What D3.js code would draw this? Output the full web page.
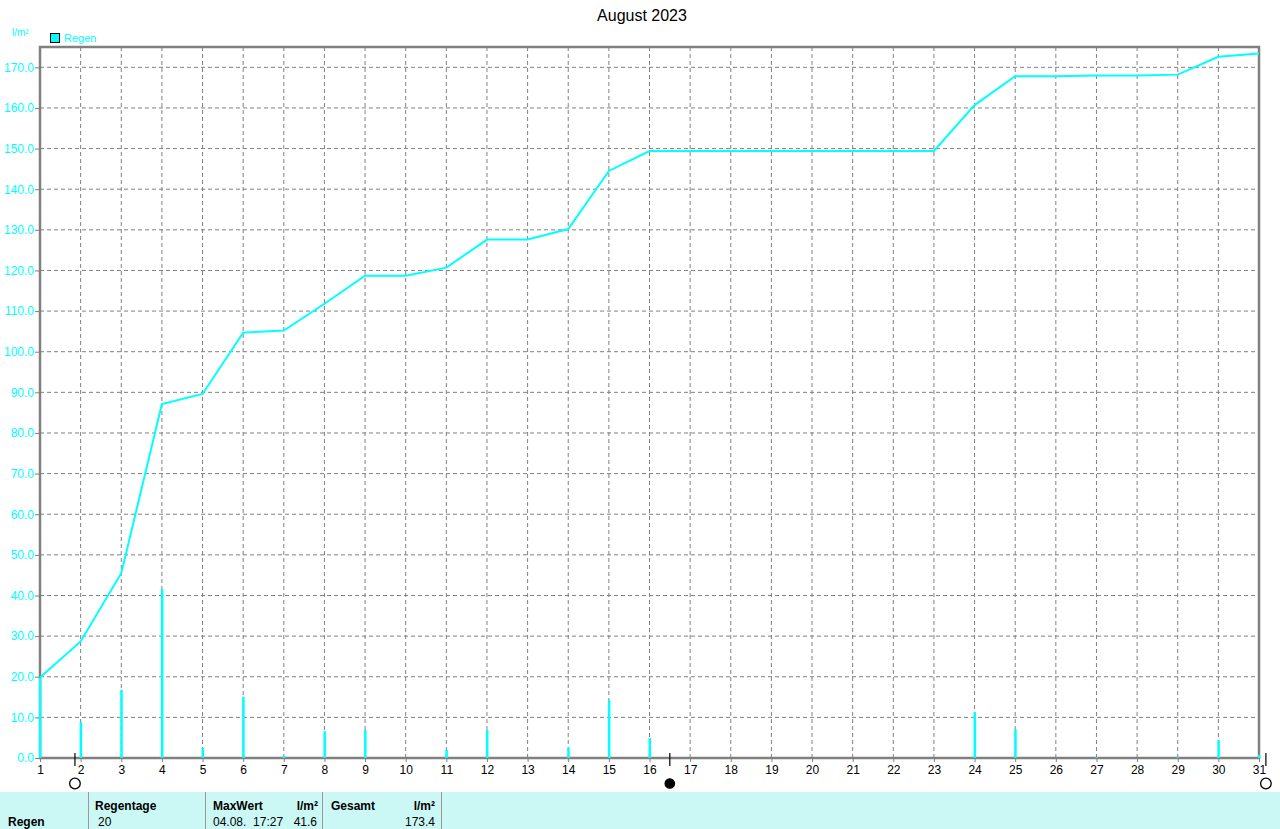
<!DOCTYPE html>
<html><head><meta charset="utf-8">
<script src="https://cdn.jsdelivr.net/npm/d3@7"></script>
<style>body{margin:0;background:#fff;}svg{display:block;}</style>
</head><body>
<svg id="c" width="1280" height="829"></svg>
<script>
const days = d3.range(1, 32);
const dailyRain = [19.8, 8.9, 16.8, 41.6, 2.5, 15.1, 0.5, 6.6, 6.9, 0, 2.0, 6.9, 0, 2.6, 14.3, 4.9,
  0, 0, 0, 0, 0, 0, 0, 11.3, 7.1, 0, 0.2, 0, 0.2, 4.4, 0.8];
const yTicks = d3.range(0, 171, 10);
const moonPhases = [{x: 1.86, type: "full"}, {x: 16.5, type: "new"}, {x: 31.17, type: "full"}];
const tableHeaders = ["Regentage", "MaxWert", "l/m²", "Gesamt", "l/m²"];
const tableRow = ["Regen", "20", "04.08.  17:27", "41.6", "173.4"];

let acc = 0;
const cumulative = dailyRain.map(v => (acc += v));

const svg = d3.select("#c");
const cyan = "#00ffff", grid = "#808080";
const x = d3.scaleLinear().domain([1, 31]).range([40, 1259]);
const y = d3.scaleLinear().domain([0, 175]).range([758, 47]);

svg.append("text").attr("x", 642).attr("y", 21).attr("text-anchor", "middle")
  .attr("font-family", "Liberation Sans, Arial, sans-serif").attr("font-size", 16).text("August 2023");

// gridlines
svg.append("g").selectAll("line").data(days.slice(1, 30)).join("line")
  .attr("x1", d => x(d)).attr("x2", d => x(d)).attr("y1", y(175)).attr("y2", y(0))
  .attr("stroke", grid).attr("stroke-dasharray", "4,3");
svg.append("g").selectAll("line").data(yTicks.slice(1)).join("line")
  .attr("x1", x(1)).attr("x2", x(31)).attr("y1", d => y(d)).attr("y2", d => y(d))
  .attr("stroke", grid).attr("stroke-dasharray", "4,3");

// frame
svg.append("rect").attr("x", x(1)).attr("y", y(175)).attr("width", x(31) - x(1)).attr("height", y(0) - y(175))
  .attr("fill", "none").attr("stroke", grid).attr("stroke-width", 2.5);

// y axis
const ya = d3.axisLeft(y).tickValues(yTicks).tickFormat(d3.format(".1f")).tickSize(5).tickPadding(1);
const yg = svg.append("g").attr("transform", `translate(${x(1)},0)`).call(ya);
yg.select(".domain").remove();
yg.selectAll("line").attr("stroke", grid);
yg.selectAll("text").attr("fill", cyan).attr("font-size", 12).attr("font-family", "Liberation Sans, Arial, sans-serif");

// x axis
const xa = d3.axisBottom(x).tickValues(days).tickFormat(d3.format("d")).tickSize(4).tickPadding(3);
const xg = svg.append("g").attr("transform", `translate(0,${y(0)})`).call(xa);
xg.select(".domain").remove();
xg.selectAll("line").attr("stroke", grid);
xg.selectAll("text").attr("fill", "#000").attr("font-size", 12).attr("font-family", "Liberation Sans, Arial, sans-serif");

// bars
svg.append("g").selectAll("rect").data(days.filter((d, i) => dailyRain[i] > 0)).join("rect")
  .attr("x", d => x(d) - 1).attr("width", 2.5)
  .attr("y", d => y(dailyRain[d - 1])).attr("height", d => y(0) - y(dailyRain[d - 1]))
  .attr("fill", cyan);

// cumulative line
svg.append("path").datum(days)
  .attr("d", d3.line().x(d => x(d)).y(d => y(cumulative[d - 1])))
  .attr("fill", "none").attr("stroke", cyan).attr("stroke-width", 2);

// moon phases
const mg = svg.append("g");
moonPhases.forEach(m => {
  const px = x(m.x);
  mg.append("line").attr("x1", px).attr("x2", px).attr("y1", 753).attr("y2", 766).attr("stroke", "#000").attr("stroke-width", 1.2);
  mg.append("circle").attr("cx", px).attr("cy", 783.5).attr("r", m.type === "full" ? 5.3 : 4.7)
    .attr("fill", m.type === "full" ? "#fff" : "#000").attr("stroke", "#000").attr("stroke-width", 1.3);
});

// legend
svg.append("text").attr("x", 12).attr("y", 36).attr("fill", cyan).attr("font-size", 10)
  .attr("font-family", "Liberation Sans, Arial, sans-serif").text("l/m²");
svg.append("rect").attr("x", 50.5).attr("y", 33.5).attr("width", 9).attr("height", 9)
  .attr("fill", cyan).attr("stroke", "#000");
svg.append("text").attr("x", 64).attr("y", 42).attr("fill", cyan).attr("font-size", 11)
  .attr("font-family", "Liberation Sans, Arial, sans-serif").text("Regen");

// table
const tg = svg.append("g").attr("font-family", "Liberation Sans, Arial, sans-serif").attr("font-size", 12);
tg.append("rect").attr("x", 0).attr("y", 792).attr("width", 1280).attr("height", 37).attr("fill", "#cbf8f5");
[88, 205, 322, 441].forEach(sx => tg.append("line").attr("x1", sx + 0.5).attr("x2", sx + 0.5).attr("y1", 792).attr("y2", 829).attr("stroke", "#999"));
const hdrPos = [[95, "start"], [213, "start"], [318, "end"], [331, "start"], [435, "end"]];
tableHeaders.forEach((t, i) => tg.append("text").attr("x", hdrPos[i][0]).attr("y", 810)
  .attr("text-anchor", hdrPos[i][1]).attr("font-weight", "bold").text(t));
const rowPos = [[8, "start", "bold"], [98, "start", "normal"], [213, "start", "normal"], [317, "end", "normal"], [435, "end", "normal"]];
tableRow.forEach((t, i) => tg.append("text").attr("x", rowPos[i][0]).attr("y", 826)
  .attr("text-anchor", rowPos[i][1]).attr("font-weight", rowPos[i][2]).attr("xml:space", "preserve").style("white-space", "pre").text(t));
</script>
</body></html>
